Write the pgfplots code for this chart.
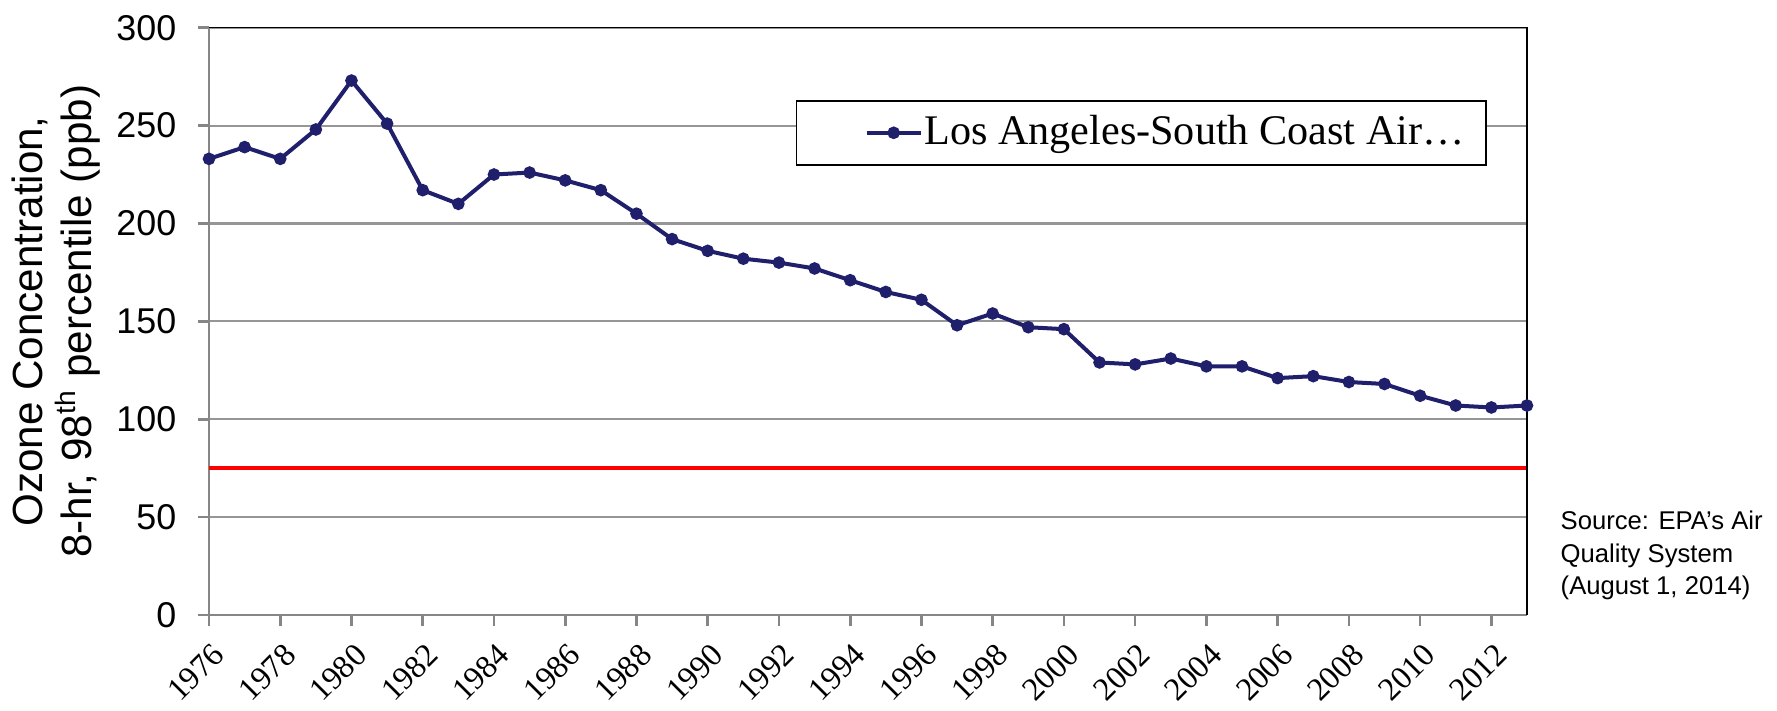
\documentclass[border=0pt]{standalone}
\usepackage{fontspec}
\setmainfont{Liberation Sans}
\newfontfamily\timesfont{Liberation Serif}
\usepackage{pgfplots}
\usepackage{pgfplotstable}
\pgfplotsset{compat=1.18}
\definecolor{navy}{RGB}{31,31,107}
\definecolor{axgray}{RGB}{134,134,134}
\definecolor{gridgray}{RGB}{150,150,150}

\pgfplotstableread{
year ppb
1976 233
1977 239
1978 233
1979 248
1980 273
1981 251
1982 217
1983 210
1984 225
1985 226
1986 222
1987 217
1988 205
1989 192
1990 186
1991 182
1992 180
1993 177
1994 171
1995 165
1996 161
1997 148
1998 154
1999 147
2000 146
2001 129
2002 128
2003 131
2004 127
2005 127
2006 121
2007 122
2008 119
2009 118
2010 112
2011 107
2012 106
2013 107
}\ozone

\begin{document}
\begin{tikzpicture}
\useasboundingbox (0,0) rectangle (17.77cm,7.11cm);
\begin{axis}[
  at={(2.09cm,0.96cm)}, anchor=south west,
  scale only axis, width=13.18cm, height=5.873cm,
  xmin=1976, xmax=2013, ymin=0, ymax=300,
  xtick={1976,1978,...,2012}, ytick={0,50,...,300},
  axis x line*=bottom, axis y line*=left,
  axis line style={draw=axgray, line width=0.75pt, -},
  tick align=outside, major tick length=0.11cm,
  tick style={draw=axgray, line width=0.75pt},
  ymajorgrids, grid style={draw=gridgray, line width=0.6pt},
  /pgf/number format/assume math mode=true,
  /pgf/number format/1000 sep={},
  yticklabel style={font=\fontsize{10.2}{12}\selectfont, inner sep=0pt, xshift=-0.21cm},
  xticklabel style={font=\timesfont\fontsize{9.2}{11}\selectfont, xshift=0.02cm, yshift=-0.15cm, rotate=45, anchor=north east, inner sep=0pt},
  ylabel={Ozone Concentration,\\8-hr, 98\textsuperscript{th} percentile (ppb)},
  ylabel style={at={(axis description cs:-0.116,0.5)}, anchor=center, align=center, font=\fontsize{12}{13.7}\selectfont},
  legend style={at={(axis description cs:0.9697,0.8769)}, anchor=north east, draw=black, line width=0.45pt, inner xsep=0.2cm, inner ysep=0.13cm, font=\timesfont\fontsize{12}{14}\selectfont, nodes={inner sep=0.5pt}},
  legend cell align=left,
  legend image code/.code={\path (0cm,0cm); \draw[#1, mark repeat=2, mark phase=2] plot coordinates {(0.48cm,0cm) (0.75cm,0cm) (1.02cm,0cm)};},
  clip=false,
]
\addplot[red, line width=1.14pt, forget plot] coordinates {(1976,75) (2013,75)};
\addplot[navy, line width=1.14pt, mark=*, mark size=1.2pt, mark options={draw=none, fill=navy}] table[x=year, y=ppb] {\ozone};
\addlegendentry{Los Angeles-South Coast Air…}
\draw[black, line width=0.45pt] (rel axis cs:0,1) -- (rel axis cs:1,1) -- (rel axis cs:1,0);
\end{axis}
\node[anchor=base west, inner sep=0pt, font=\fontsize{7.3}{9}\selectfont] at (15.60cm,1.81cm) {Source: EPA’s Air};
\node[anchor=base west, inner sep=0pt, font=\fontsize{7.3}{9}\selectfont] at (15.60cm,1.48cm) {Quality System};
\node[anchor=base west, inner sep=0pt, font=\fontsize{7.3}{9}\selectfont] at (15.60cm,1.16cm) {(August 1, 2014)};
\end{tikzpicture}
\end{document}
